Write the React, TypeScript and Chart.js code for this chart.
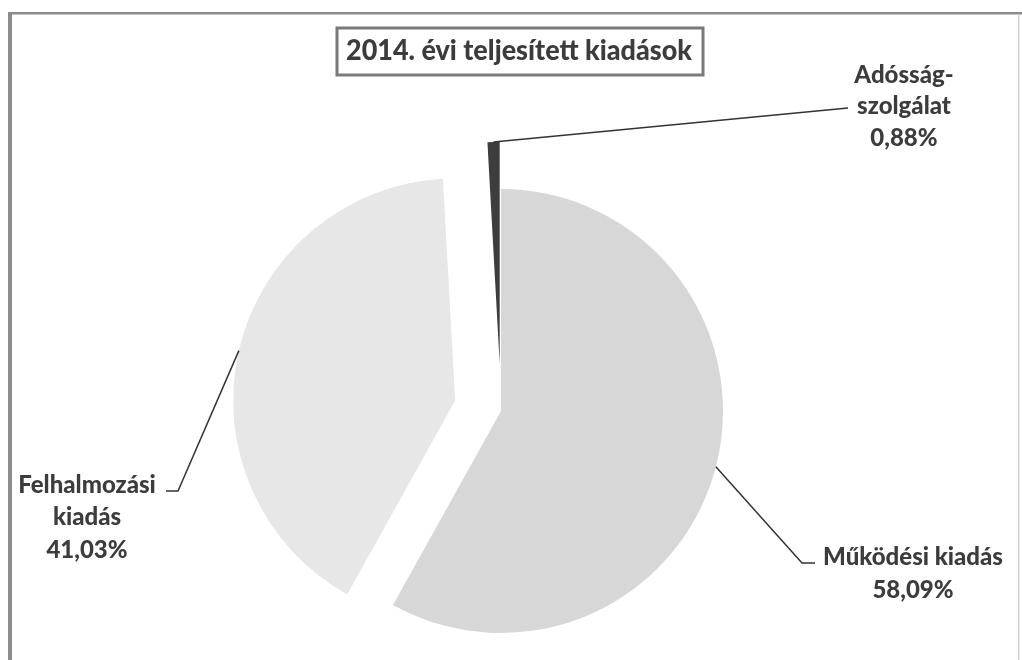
import React, { useEffect, useRef } from "react";
import { Chart, registerables } from "chart.js";

Chart.register(...registerables);

// ---- data ----
const categories: string[] = ["Működési kiadás", "Felhalmozási kiadás", "Adósságszolgálat"];
const shares: number[] = [58.09, 41.03, 0.88];
const labelNameLines: string[][] = [["Működési kiadás"], ["Felhalmozási", "kiadás"], ["Adósság-", "szolgálat"]];
const chartTitle = "2014. évi teljesített kiadások";

// ---- styles / layout ----
const sliceColors = ["#d7d7d7", "#e7e7e7", "#3d3d3d"];
const explodePx = [0, 47, 47];
const TEXT = "#3c3c3c";
const FONT = "Lato, 'Open Sans', sans-serif";

type LabelLayout = { cx: number; firstY: number; lineH: number; path: [number, number][]; maxW: number };
const labelLayout: LabelLayout[] = [
  { cx: 913, firstY: 557, lineH: 33, path: [[802, 563], [815, 563]], maxW: 184 },
  { cx: 87, firstY: 485, lineH: 32.5, path: [[178, 491], [166, 491]], maxW: 140 },
  { cx: 904, firstY: 75, lineH: 31.5, path: [[848, 108]], maxW: 104 },
];

const fmtPct = (v: number) => v.toFixed(2).replace(".", ",") + "%";

const explodePlugin = {
  id: "explode",
  afterUpdate(chart: any) {
    const meta = chart.getDatasetMeta(0);
    meta.data.forEach((arc: any, i: number) => {
      const e = explodePx[i] || 0;
      if (!e) return;
      const mid = (arc.startAngle + arc.endAngle) / 2;
      arc.x += Math.cos(mid) * e;
      arc.y += Math.sin(mid) * e;
    });
  },
};

const decorPlugin = {
  id: "decor",
  beforeDraw(chart: any) {
    const ctx = chart.ctx as CanvasRenderingContext2D;
    ctx.save();
    ctx.fillStyle = "#ffffff";
    ctx.fillRect(0, 0, chart.width, chart.height);
    // frame
    ctx.fillStyle = "#8c8c8c";
    ctx.fillRect(8, 12, 4, chart.height - 12);
    ctx.fillRect(8, 12, chart.width - 8, 2.5);
    ctx.fillStyle = "#d4d4d4";
    ctx.fillRect(1018, 14, 1.5, chart.height - 14);
    ctx.restore();
  },
  afterDraw(chart: any) {
    const ctx = chart.ctx as CanvasRenderingContext2D;
    const meta = chart.getDatasetMeta(0);
    ctx.save();
    // title box
    ctx.strokeStyle = "#7a7a7a";
    ctx.lineWidth = 3;
    ctx.strokeRect(337, 28, 366, 47);
    ctx.fillStyle = TEXT;
    ctx.font = `900 28px ${FONT}`;
    ctx.textAlign = "center";
    ctx.textBaseline = "middle";
    ctx.fillText(chartTitle, 519, 51, 346);

    // leader lines + labels
    ctx.font = `900 24px ${FONT}`;
    meta.data.forEach((arc: any, i: number) => {
      const L = labelLayout[i];
      const mid = (arc.startAngle + arc.endAngle) / 2;
      const ax = arc.x + Math.cos(mid) * arc.outerRadius;
      const ay = arc.y + Math.sin(mid) * arc.outerRadius;
      ctx.strokeStyle = "#333333";
      ctx.lineWidth = 1.5;
      ctx.beginPath();
      ctx.moveTo(ax, ay);
      L.path.forEach(([px, py]) => ctx.lineTo(px, py));
      ctx.stroke();
      const lines = [...labelNameLines[i], fmtPct(shares[i])];
      ctx.fillStyle = TEXT;
      lines.forEach((t, k) => ctx.fillText(t, L.cx, L.firstY + k * L.lineH, L.maxW));
    });
    ctx.restore();
  },
};

export default function App() {
  const ref = useRef<HTMLCanvasElement | null>(null);
  useEffect(() => {
    if (!ref.current) return;
    const chart = new Chart(ref.current, {
      type: "pie",
      data: {
        labels: categories,
        datasets: [
          {
            data: shares,
            backgroundColor: sliceColors,
            borderWidth: 0,
          },
        ],
      },
      options: {
        responsive: false,
        animation: false,
        devicePixelRatio: 1,
        radius: 222,
        rotation: 0,
        layout: { padding: { left: 0, right: 20, top: 162, bottom: 0 } },
        events: [],
        plugins: {
          legend: { display: false },
          tooltip: { enabled: false },
          title: { display: false },
        },
      } as any,
      plugins: [explodePlugin, decorPlugin],
    });
    return () => chart.destroy();
  }, []);
  return (
    <div style={{ position: "fixed", left: 0, top: 0, width: 1022, height: 660, background: "#fff" }}>
      <canvas ref={ref} width={1022} height={660} style={{ width: 1022, height: 660, display: "block" }} />
    </div>
  );
}
